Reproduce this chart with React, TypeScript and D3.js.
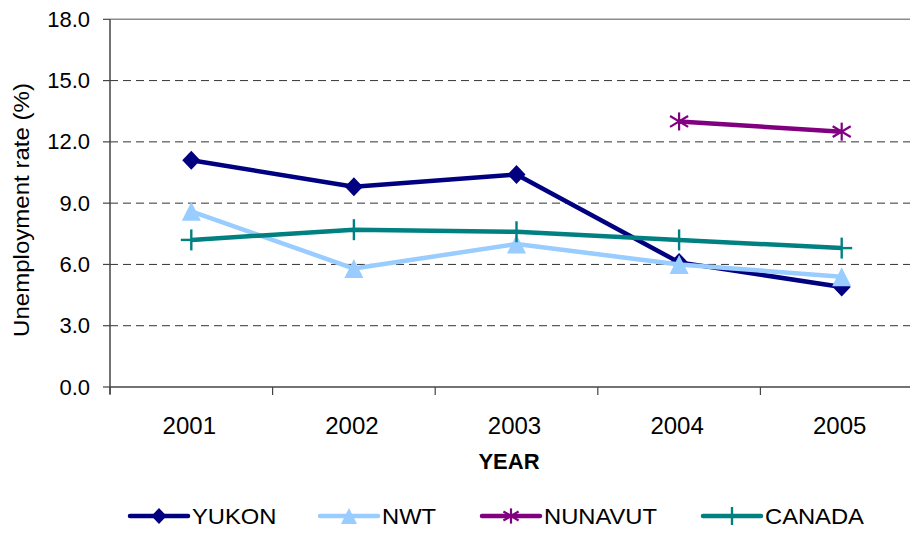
import React from "react";
import * as d3 from "d3";

const years = ["2001", "2002", "2003", "2004", "2005"];
const yukon: (number | null)[] = [11.1, 9.8, 10.4, 6.1, 4.9];
const nwt: (number | null)[] = [8.6, 5.8, 7.0, 6.0, 5.4];
const nunavut: (number | null)[] = [null, null, null, 13.0, 12.5];
const canada: (number | null)[] = [7.2, 7.7, 7.6, 7.2, 6.8];
const yTicks = [0, 3, 6, 9, 12, 15, 18];
const seriesNames = ["YUKON", "NWT", "NUNAVUT", "CANADA"];
const seriesColors = ["#000080", "#99CCFF", "#800080", "#008080"];
const seriesMarkers = ["diamond", "triangle", "star", "plus"];

const W = 910;
const H = 535;
const plot = { left: 110, top: 19.3, right: 923, bottom: 387 };
const FONT = "'Liberation Sans', Arial, sans-serif";

function Marker({ type, x, y, color, size }: { type: string; x: number; y: number; color: string; size: number }) {
  if (type === "diamond") {
    const s = size;
    return <path d={`M${x},${y - s}L${x + s * 0.95},${y}L${x},${y + s}L${x - s * 0.95},${y}Z`} fill={color} />;
  }
  if (type === "triangle") {
    const s = size;
    return <path d={`M${x},${y - s}L${x + s},${y + s}L${x - s},${y + s}Z`} fill={color} />;
  }
  if (type === "star") {
    const s = size * 0.95;
    return (
      <g stroke={color} strokeWidth={2.2}>
        <line x1={x} y1={y - s} x2={x} y2={y + s} />
        <line x1={x - s} y1={y - s * 0.6} x2={x + s} y2={y + s * 0.6} />
        <line x1={x - s} y1={y + s * 0.6} x2={x + s} y2={y - s * 0.6} />
      </g>
    );
  }
  // plus
  const s = size + 1;
  return (
    <g stroke={color} strokeWidth={2.4}>
      <line x1={x} y1={y - s} x2={x} y2={y + s} />
      <line x1={x - s} y1={y} x2={x + s} y2={y} />
    </g>
  );
}

export default function App() {
  const x = d3.scaleBand<string>().domain(years).range([plot.left, plot.right]).padding(0);
  const y = d3.scaleLinear().domain([0, 18]).range([plot.bottom, plot.top]);
  const cx = (yr: string) => (x(yr) as number) + x.bandwidth() / 2;
  const fmt = d3.format(".1f");
  const allSeries = [yukon, nwt, nunavut, canada];

  const line = d3
    .line<number | null>()
    .defined((d) => d !== null)
    .x((_, i) => cx(years[i]))
    .y((d) => y(d as number));

  const legendLines = [
    [130, 188],
    [320, 378],
    [482, 540],
    [703, 761],
  ];
  const legendY = 516;

  const boundaries = [...years.map((yr) => x(yr) as number), plot.right];

  return (
    <svg width={W} height={H} style={{ position: "absolute", left: 0, top: 0, background: "#fff" }} fontFamily={FONT}>
      <rect x={0} y={0} width={W} height={H} fill="#fff" />
      {/* gridlines */}
      {yTicks
        .filter((t) => t > 0 && t < 18)
        .map((t) => (
          <line key={t} x1={plot.left} x2={plot.right} y1={y(t)} y2={y(t)} stroke="#333" strokeWidth={1} strokeDasharray="8,5" />
        ))}
      {/* top border */}
      <line x1={plot.left} x2={plot.right} y1={plot.top} y2={plot.top} stroke="#8c8c8c" strokeWidth={1.5} />
      {/* y axis */}
      <line x1={plot.left} x2={plot.left} y1={plot.top} y2={plot.bottom + 7} stroke="#444" strokeWidth={1.5} />
      {yTicks.map((t) => (
        <g key={t}>
          <line x1={plot.left - 7} x2={plot.left} y1={y(t)} y2={y(t)} stroke="#444" strokeWidth={1.2} />
          <text x={90} y={y(t)} dominantBaseline="central" textAnchor="end" fontSize={22} fill="#000">
            {fmt(t)}
          </text>
        </g>
      ))}
      {/* x axis */}
      <line x1={plot.left} x2={plot.right} y1={plot.bottom} y2={plot.bottom} stroke="#444" strokeWidth={1.5} />
      {boundaries.map((b, i) => (
        <line key={i} x1={b} x2={b} y1={plot.bottom} y2={plot.bottom + 8} stroke="#444" strokeWidth={1.2} />
      ))}
      {years.map((yr) => (
        <text key={yr} x={cx(yr) - 2} y={434} textAnchor="middle" fontSize={24} fill="#000">
          {yr}
        </text>
      ))}
      <text x={509} y={469} textAnchor="middle" fontSize={22} fontWeight="bold" fill="#000">
        YEAR
      </text>
      <text
        transform={`translate(29,210) rotate(-90)`}
        textAnchor="middle"
        fontSize={22}
        fill="#000"
        textLength={254}
        lengthAdjust="spacingAndGlyphs"
      >
        Unemployment rate (%)
      </text>
      {/* series */}
      {allSeries.map((s, si) => (
        <g key={si}>
          <path d={line(s) || ""} fill="none" stroke={seriesColors[si]} strokeWidth={4.5} strokeLinejoin="round" />
          {s.map((v, i) =>
            v === null ? null : (
              <Marker key={i} type={seriesMarkers[si]} x={cx(years[i])} y={y(v)} color={seriesColors[si]} size={9.5} />
            )
          )}
        </g>
      ))}
      {/* legend */}
      {seriesNames.map((name, i) => {
        const [a, b] = legendLines[i];
        return (
          <g key={name}>
            <line x1={a} x2={b} y1={legendY} y2={legendY} stroke={seriesColors[i]} strokeWidth={4.5} strokeLinecap="round" />
            <Marker type={seriesMarkers[i]} x={(a + b) / 2} y={legendY} color={seriesColors[i]} size={8} />
            <text x={b + 4} y={legendY} dominantBaseline="central" fontSize={22} fill="#000" transform={`translate(${b + 4},0) scale(1.08,1) translate(${-(b + 4)},0)`}>
              {name}
            </text>
          </g>
        );
      })}
    </svg>
  );
}
